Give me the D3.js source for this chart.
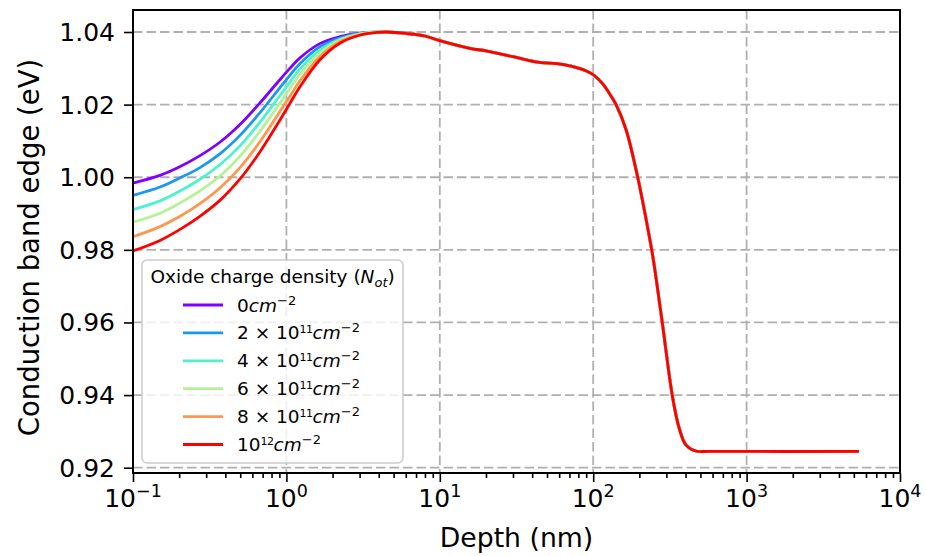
<!DOCTYPE html>
<html><head><meta charset="utf-8">
<script src="https://cdn.jsdelivr.net/npm/d3@7"></script>
<style>
body{margin:0;background:#fff}
svg{display:block}
text{font-family:"DejaVu Sans",sans-serif;fill:#000}
</style>
</head><body><svg id="c" width="926" height="556"></svg>
<script>
// ---- data ----
const headDepth = [0.1, 0.15, 0.2, 0.27, 0.37, 0.5, 0.67, 0.9, 1.05, 1.22, 1.65, 2.23, 3.0, 4.0];
const band0  = [0.9984, 1.0005, 1.0028, 1.0058, 1.0097, 1.0146, 1.0204, 1.0267, 1.0299, 1.0328, 1.0368, 1.0387, 1.0397, 1.0400];
const band2  = [0.9950, 0.9973, 0.9997, 1.0025, 1.0065, 1.0116, 1.0177, 1.0245, 1.0280, 1.0312, 1.0359, 1.0383, 1.0396, 1.0400];
const band4  = [0.9911, 0.9935, 0.9961, 0.9993, 1.0035, 1.0087, 1.0151, 1.0223, 1.0261, 1.0297, 1.0350, 1.0380, 1.0395, 1.0400];
const band6  = [0.9876, 0.9901, 0.9928, 0.9961, 1.0004, 1.0059, 1.0126, 1.0202, 1.0243, 1.0282, 1.0342, 1.0377, 1.0394, 1.0400];
const band8  = [0.9836, 0.9864, 0.9891, 0.9926, 0.9971, 1.0027, 1.0097, 1.0179, 1.0222, 1.0265, 1.0332, 1.0373, 1.0392, 1.0399];
const band10 = [0.9797, 0.9826, 0.9855, 0.9891, 0.9937, 0.9996, 1.0069, 1.0155, 1.0202, 1.0248, 1.0323, 1.0369, 1.0391, 1.0399];
// common tail (all curves coincide here)
const tailDepth = [4.5, 6, 8, 10, 15.7, 20, 30, 42, 63, 81, 97, 115, 127, 141, 164, 195, 221, 244, 257, 283, 329, 364, 402, 468, 570, 5400];
const tailBand  = [1.0400, 1.0396, 1.0389, 1.0376, 1.0355, 1.0348, 1.0332, 1.0318, 1.0311, 1.0300, 1.0286, 1.0258, 1.0232, 1.0200, 1.0130, 1.0000, 0.9885, 0.9785, 0.9722, 0.9595, 0.9395, 0.9308, 0.9263, 0.9246, 0.9245, 0.9245];

const seriesHeads = [band0, band2, band4, band6, band8, band10];
const seriesColors = ["#8000ff", "#1a96f3", "#4df3ce", "#b3f396", "#ff964f", "#ff0000"];
const legendCoef = ["0", "2 × 10", "4 × 10", "6 × 10", "8 × 10", "10"];
const legendPow  = ["", "11", "11", "11", "11", "12"];
const yTicks = [0.92, 0.94, 0.96, 0.98, 1.00, 1.02, 1.04];
const xTickExp = [-1, 0, 1, 2, 3, 4];

// ---- layout ----
const L = 133, R = 900, T = 10, B = 473;
const svg = d3.select("#c");
const x = d3.scaleLog().domain([0.1, 1e4]).range([L, R]);
const y = d3.scaleLinear().domain([0.91854, 1.04606]).range([B, T]);

// grid
const grid = svg.append("g").attr("stroke", "#b0b0b0").attr("stroke-width", 1.8).attr("stroke-dasharray", "9.5,4");
yTicks.forEach(v => grid.append("line").attr("x1", L).attr("x2", R).attr("y1", y(v)).attr("y2", y(v)));
xTickExp.forEach(e => grid.append("line").attr("x1", x(Math.pow(10, e))).attr("x2", x(Math.pow(10, e))).attr("y1", T).attr("y2", B));

// series
const line = d3.line().x(d => x(d[0])).y(d => y(d[1])).curve(d3.curveCatmullRom.alpha(0.5));
seriesHeads.forEach((vals, i) => {
  const pts = headDepth.map((d, k) => [d, vals[k]]).concat(tailDepth.map((d, k) => [d, tailBand[k]]));
  svg.append("path").datum(pts).attr("d", line).attr("fill", "none")
    .attr("stroke", seriesColors[i]).attr("stroke-width", 2.8).attr("stroke-linejoin", "round");
});

// axes
const yAxis = svg.append("g").attr("transform", `translate(${L},0)`)
  .call(d3.axisLeft(y).tickValues(yTicks).tickFormat(d3.format(".2f")).tickSize(9).tickPadding(9));
yAxis.selectAll("text").attr("font-size", 25).attr("font-family", "DejaVu Sans").attr("dy", "0.34em");

const minor = [];
for (let e = -1; e < 4; e++) for (let m = 2; m <= 9; m++) minor.push(m * Math.pow(10, e));
const xMinor = svg.append("g").attr("transform", `translate(0,${B})`)
  .call(d3.axisBottom(x).tickValues(minor).tickFormat("").tickSize(5));
const xAxis = svg.append("g").attr("transform", `translate(0,${B})`)
  .call(d3.axisBottom(x).tickValues(xTickExp.map(e => Math.pow(10, e))).tickFormat("").tickSize(9));
[yAxis, xMinor, xAxis].forEach(g => {
  g.select(".domain").remove();
  g.selectAll(".tick line").attr("stroke", "#000").attr("stroke-width", 1.6);
});
xTickExp.forEach(e => {
  const t = svg.append("text").attr("x", x(Math.pow(10, e))).attr("y", 507)
    .attr("text-anchor", "middle").attr("font-size", 25);
  t.append("tspan").text("10");
  t.append("tspan").attr("font-size", 17.5).attr("dy", -10).text(e < 0 ? "−" + (-e) : String(e));
});

// frame
svg.append("rect").attr("x", L).attr("y", T).attr("width", R - L).attr("height", B - T)
  .attr("fill", "none").attr("stroke", "#000").attr("stroke-width", 2);

// axis labels
svg.append("text").attr("x", (L + R) / 2).attr("y", 547).attr("text-anchor", "middle")
  .attr("font-size", 26.7).text("Depth (nm)");
svg.append("text").attr("transform", `translate(39,${(T + B) / 2 + 6}) rotate(-90)`)
  .attr("text-anchor", "middle").attr("font-size", 27.5).text("Conduction band edge (eV)");

// legend
const lg = svg.append("g");
lg.append("rect").attr("x", 142).attr("y", 260).attr("width", 261).attr("height", 203).attr("rx", 5)
  .attr("fill", "#fff").attr("fill-opacity", 0.8).attr("stroke", "#cccccc").attr("stroke-width", 1.5);
const title = lg.append("text").attr("x", 150.5).attr("y", 283).attr("font-size", 18.5);
title.append("tspan").text("Oxide charge density (");
title.append("tspan").attr("font-style", "italic").text("N");
title.append("tspan").attr("font-style", "italic").attr("font-size", 13).attr("dy", 4).text("ot");
title.append("tspan").attr("dy", -4).text(")");
seriesColors.forEach((c, i) => {
  const cy = 305 + i * 27.9;
  lg.append("line").attr("x1", 183).attr("x2", 223).attr("y1", cy).attr("y2", cy)
    .attr("stroke", c).attr("stroke-width", 2.8);
  const t = lg.append("text").attr("x", 237).attr("y", cy + 6.5).attr("font-size", 18.5);
  t.append("tspan").text(legendCoef[i]);
  let up = 0;
  if (legendPow[i]) { t.append("tspan").attr("font-size", 11).attr("dy", -6).attr("letter-spacing", -0.5).text(legendPow[i]); up = 6; }
  t.append("tspan").attr("font-style", "italic").attr("dy", up).text("cm");
  t.append("tspan").attr("font-size", 13).attr("dy", -7).text("−2");
});
</script>
</body></html>
